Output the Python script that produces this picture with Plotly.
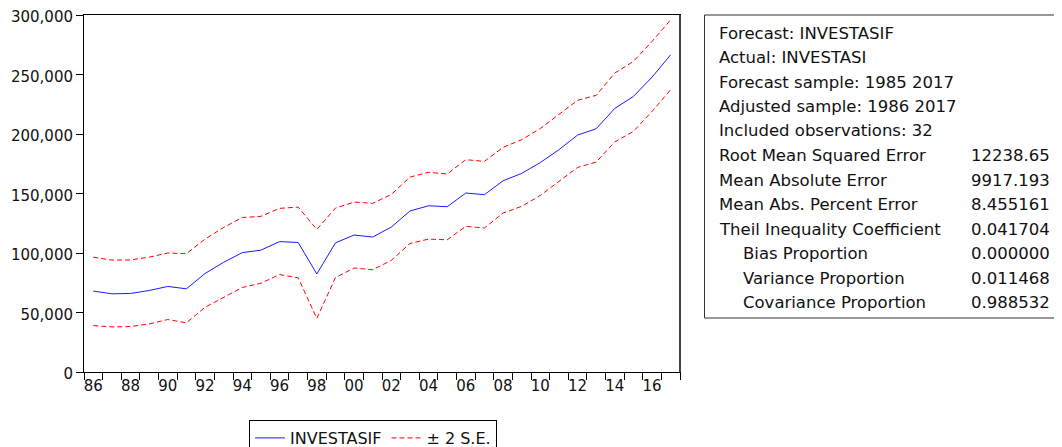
import plotly.graph_objects as go

years = list(range(1986, 2018))
forecast = [68.0, 65.7, 66.0, 68.5, 71.9, 69.9, 82.8, 92.2, 100.3, 102.4, 109.6, 108.8,
            82.4, 108.5, 115.1, 113.4, 121.8, 135.3, 139.7, 138.9, 150.4, 149.0, 160.7,
            166.9, 176.0, 186.8, 199.1, 204.4, 221.5, 231.6, 247.8, 266.6]
upper = [96.5, 94.0, 94.2, 96.5, 100.0, 99.4, 111.7, 121.5, 129.8, 130.8, 137.5, 138.6,
         119.8, 137.7, 142.8, 141.7, 149.2, 163.8, 167.8, 166.4, 178.4, 177.0, 188.8,
         195.2, 204.6, 216.2, 228.3, 232.5, 251.2, 261.0, 277.8, 296.0]
lower = [39.0, 37.9, 38.2, 40.4, 44.1, 41.3, 54.4, 62.5, 71.0, 74.6, 81.9, 79.1,
         45.0, 79.3, 87.4, 85.9, 93.8, 108.0, 111.7, 111.1, 122.4, 121.0, 133.6,
         139.2, 148.3, 160.2, 171.9, 176.4, 193.4, 202.2, 219.0, 237.2]
forecast = [v * 1000 for v in forecast]
upper = [v * 1000 for v in upper]
lower = [v * 1000 for v in lower]

label_years = list(range(1986, 2017, 2))
label_text = ["%02d" % (y % 100) for y in label_years]
y_ticks = [0, 50000, 100000, 150000, 200000, 250000, 300000]

stat_labels = ["Forecast: INVESTASIF", "Actual: INVESTASI", "Forecast sample: 1985 2017",
               "Adjusted sample: 1986 2017", "Included observations: 32",
               "Root Mean Squared Error", "Mean Absolute Error", "Mean Abs. Percent Error",
               "Theil Inequality Coefficient", "Bias Proportion", "Variance Proportion",
               "Covariance Proportion"]
stat_values = ["", "", "", "", "", "12238.65", "9917.193", "8.455161", "0.041704",
               "0.000000", "0.011468", "0.988532"]
stat_indent = [False] * 9 + [True, True, True]

FONT = "DejaVu Sans"
OFF = 8  # default page body margin
W, H = 1062 - OFF, 447 - OFF
L, R, T, B = 84 - OFF, 680 - OFF, 15 - OFF, 372 - OFF

def px_x(p):
    return (p - OFF - L) / (R - L)

def px_y(p):
    return (B - (p - OFF)) / (B - T)

fig = go.Figure()
fig.add_trace(go.Scatter(x=years, y=forecast, mode="lines", name="INVESTASIF",
                         line=dict(color="#1a1aff", width=1)))
fig.add_trace(go.Scatter(x=years, y=upper, mode="lines", name="\u00b1 2 S.E.",
                         line=dict(color="#FF0000", width=1, dash="5px,3px")))
fig.add_trace(go.Scatter(x=years, y=lower, mode="lines", name="\u00b1 2 S.E.",
                         showlegend=False,
                         line=dict(color="#FF0000", width=1, dash="5px,3px")))

shapes = [dict(type="rect", xref="paper", yref="paper",
               x0=px_x(704.5), x1=px_x(1059), y0=px_y(318), y1=px_y(15),
               line=dict(color="#333333", width=1), fillcolor="rgba(0,0,0,0)"),
          dict(type="line", xref="paper", yref="paper", x0=1, x1=1, y0=0, y1=1,
               line=dict(color="#444444", width=2))]

annotations = []
for i, (lab, val, ind) in enumerate(zip(stat_labels, stat_values, stat_indent)):
    yc = 33 + i * 24.5
    annotations.append(dict(xref="paper", yref="paper", x=px_x(741 if ind else 717),
                            y=px_y(yc), text=lab, showarrow=False, xanchor="left",
                            yanchor="middle", font=dict(family=FONT, size=16.5, color="#111")))
    if val:
        annotations.append(dict(xref="paper", yref="paper", x=px_x(969), y=px_y(yc),
                                text=val, showarrow=False, xanchor="left",
                                yanchor="middle", font=dict(family=FONT, size=16.5, color="#111")))

fig.update_layout(
    width=W, height=H,
    margin=dict(l=L, r=W - R, t=T, b=H - B, autoexpand=False),
    paper_bgcolor="white", plot_bgcolor="white",
    font=dict(family=FONT, size=15, color="#111"),
    xaxis=dict(range=[1985.5, 2017.5], showgrid=False, zeroline=False,
               tickmode="array", tickvals=label_years, ticktext=label_text, ticks="",
               minor=dict(tickmode="linear", tick0=1985.5, dtick=1, ticks="outside",
                          ticklen=7, tickcolor="black", showgrid=False),
               showline=True, linecolor="black", linewidth=1, mirror=True,
               ticklabeloverflow="allow",
               tickfont=dict(family=FONT, size=15, color="#111")),
    yaxis=dict(range=[0, 300000], showgrid=False, zeroline=False,
               tickmode="array", tickvals=y_ticks, tickformat=",d", ticks="outside",
               ticklen=7, tickcolor="black", ticklabelshift=2,
               showline=True, linecolor="black", linewidth=1, mirror=True,
               ticklabeloverflow="allow",
               tickfont=dict(family=FONT, size=15, color="#111")),
    legend=dict(orientation="h", xref="container", yref="container",
                x=(249 - OFF) / W, y=1 - (420 - OFF) / H, xanchor="left", yanchor="top",
                bordercolor="black", borderwidth=1, bgcolor="white",
                font=dict(family=FONT, size=16, color="#111")),
    shapes=shapes, annotations=annotations,
    showlegend=True,
)

fig.write_html("out.html")
